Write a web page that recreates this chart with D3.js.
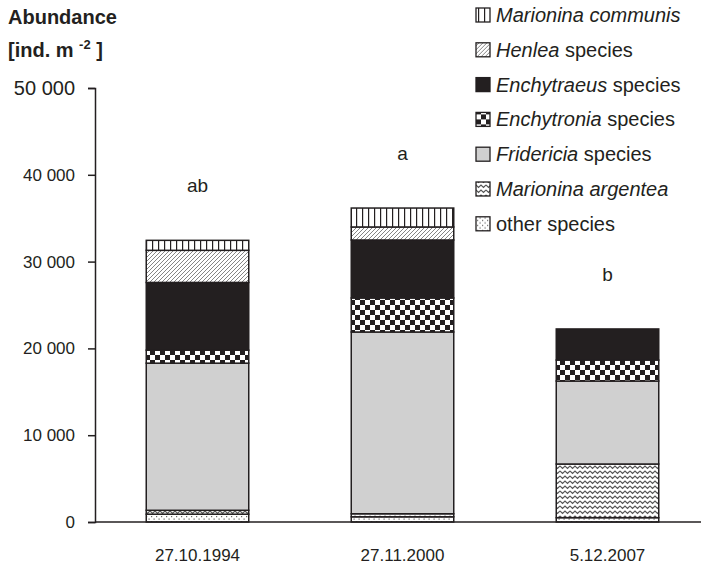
<!DOCTYPE html>
<html>
<head>
<meta charset="utf-8">
<script src="https://cdn.jsdelivr.net/npm/d3@7"></script>
<style>
  body { margin: 0; background: #fff; }
  text { font-family: "Liberation Sans", Arial, sans-serif; fill: #231f20; }
</style>
</head>
<body>
<script>
const width = 701;
const height = 570;
const margin = ({top: 88, right: -9, bottom: 48, left: 95});

// data (ind. m-2), stacked bottom -> top
const dates = ["27.10.1994", "27.11.2000", "5.12.2007"];
const species = ["other", "argentea", "fridericia", "enchytronia", "enchytraeus", "henlea", "communis"];
const other = [900, 600, 500];
const argentea = [450, 350, 6180];
const fridericia = [16950, 20940, 9560];
const enchytronia = [1500, 3920, 2420];
const enchytraeus = [7800, 6680, 3580];
const henlea = [3700, 1500, 0];
const communis = [1150, 2180, 0];
const letters = ["ab", "a", "b"];
const yTicks = [0, 10000, 20000, 30000, 40000, 50000];

const seriesValues = {other, argentea, fridericia, enchytronia, enchytraeus, henlea, communis};

// legend, top -> bottom
const legendItems = [
  {key: "communis", italic: "Marionina communis", rest: ""},
  {key: "henlea", italic: "Henlea", rest: " species"},
  {key: "enchytraeus", italic: "Enchytraeus", rest: " species"},
  {key: "enchytronia", italic: "Enchytronia", rest: " species"},
  {key: "fridericia", italic: "Fridericia", rest: " species"},
  {key: "argentea", italic: "Marionina argentea", rest: ""},
  {key: "other", italic: "", rest: "other species"}
];

const dark = "#231f20";

const tableData = dates.map((d, i) => {
  const row = {date: d};
  species.forEach(s => row[s] = seriesValues[s][i]);
  return row;
});

const svg = d3.select("body").append("svg")
  .attr("width", width)
  .attr("height", height);

// fill patterns
const defs = svg.append("defs");

let p = defs.append("pattern").attr("id", "p-communis")
  .attr("patternUnits", "userSpaceOnUse").attr("width", 6).attr("height", 6);
p.append("rect").attr("width", 6).attr("height", 6).attr("fill", "#fff");
p.append("rect").attr("x", 2).attr("width", 1.2).attr("height", 6).attr("fill", dark);

p = defs.append("pattern").attr("id", "p-henlea")
  .attr("patternUnits", "userSpaceOnUse").attr("width", 4).attr("height", 4);
p.append("rect").attr("width", 4).attr("height", 4).attr("fill", "#fff");
p.append("path").attr("d", "M-1,5 L5,-1 M-1,1 L1,-1 M3,5 L5,3")
  .attr("stroke", "#777").attr("stroke-width", 0.9);

p = defs.append("pattern").attr("id", "p-enchytronia")
  .attr("patternUnits", "userSpaceOnUse").attr("width", 10).attr("height", 10);
p.append("rect").attr("width", 10).attr("height", 10).attr("fill", "#fff");
p.append("rect").attr("x", 0).attr("y", 0).attr("width", 5).attr("height", 5).attr("fill", dark);
p.append("rect").attr("x", 5).attr("y", 5).attr("width", 5).attr("height", 5).attr("fill", dark);

p = defs.append("pattern").attr("id", "p-argentea")
  .attr("patternUnits", "userSpaceOnUse").attr("width", 10).attr("height", 5);
p.append("rect").attr("width", 10).attr("height", 5).attr("fill", "#fff");
p.append("path").attr("d", "M0,1 L2.5,3.5 L5,1 L7.5,3.5 L10,1")
  .attr("fill", "none").attr("stroke", "#555").attr("stroke-width", 1.1);

p = defs.append("pattern").attr("id", "p-other")
  .attr("patternUnits", "userSpaceOnUse").attr("width", 5).attr("height", 5);
p.append("rect").attr("width", 5).attr("height", 5).attr("fill", "#fff");
p.append("rect").attr("x", 1).attr("y", 1).attr("width", 1.2).attr("height", 1.2).attr("fill", "#666");
p.append("rect").attr("x", 3.5).attr("y", 3.5).attr("width", 1.2).attr("height", 1.2).attr("fill", "#666");

const fills = {
  communis: "url(#p-communis)",
  henlea: "url(#p-henlea)",
  enchytraeus: dark,
  enchytronia: "url(#p-enchytronia)",
  fridericia: "#d0d0d0",
  argentea: "url(#p-argentea)",
  other: "url(#p-other)"
};

const x = d3.scaleBand()
  .domain(dates)
  .range([margin.left, width - margin.right])
  .paddingInner(0.5)
  .paddingOuter(0.25);

const y = d3.scaleLinear()
  .domain([0, 50000])
  .range([height - margin.bottom, margin.top]);

const stacked = d3.stack().keys(species)(tableData);

svg.append("g")
  .selectAll("g")
  .data(stacked)
  .join("g")
  .attr("fill", d => fills[d.key])
  .selectAll("rect")
  .data(d => d.filter(v => v[1] > v[0]))
  .join("rect")
  .attr("x", d => x(d.data.date))
  .attr("y", d => y(d[1]))
  .attr("width", x.bandwidth())
  .attr("height", d => y(d[0]) - y(d[1]))
  .attr("stroke", dark)
  .attr("stroke-width", 1.5);

// y axis
const fmt = v => d3.format(",")(v).replace(/,/g, " ");
const yAxis = svg.append("g")
  .attr("transform", `translate(${margin.left},0)`)
  .call(d3.axisLeft(y).tickValues(yTicks).tickFormat(fmt).tickSize(7).tickSizeOuter(7).tickPadding(13));
yAxis.select(".domain").attr("stroke", dark).attr("stroke-width", 1.5);
yAxis.selectAll(".tick line").attr("stroke", dark).attr("stroke-width", 1.5);
yAxis.selectAll(".tick text").attr("font-size", d => d === 50000 ? 20 : 17)
  .attr("font-family", null).attr("fill", dark);

// x axis
const xAxis = svg.append("g")
  .attr("transform", `translate(0,${y(0)})`)
  .call(d3.axisBottom(x).tickSize(0).tickPadding(27));
xAxis.select(".domain").attr("stroke", dark).attr("stroke-width", 1.5)
  .attr("d", `M${margin.left},0H${width}`);
xAxis.selectAll(".tick text").attr("font-size", 17).attr("font-family", null).attr("fill", dark);

// significance letters
svg.append("g")
  .selectAll("text")
  .data(dates)
  .join("text")
  .attr("x", d => x(d) + x.bandwidth() / 2)
  .attr("y", (d, i) => y(d3.sum(species, s => seriesValues[s][i])) - 48)
  .attr("text-anchor", "middle")
  .attr("font-size", 19)
  .text((d, i) => letters[i]);

// axis title
const title = svg.append("text").attr("x", 8).attr("y", 24)
  .attr("font-size", 20).attr("font-weight", "bold");
title.append("tspan").text("Abundance");
const unit = svg.append("text").attr("x", 8).attr("y", 57)
  .attr("font-size", 20).attr("font-weight", "bold");
unit.append("tspan").text("[ind. m ");
unit.append("tspan").attr("font-size", 13).attr("dy", -8).text("-2");
unit.append("tspan").attr("dy", 8).text(" ]");

// legend
const legend = svg.append("g")
  .selectAll("g")
  .data(legendItems)
  .join("g")
  .attr("transform", (d, i) => `translate(476,${15 + i * 34.8})`);

legend.append("rect")
  .attr("y", -7)
  .attr("width", 14)
  .attr("height", 14)
  .attr("fill", d => fills[d.key])
  .attr("stroke", dark)
  .attr("stroke-width", 1.3);

const lt = legend.append("text")
  .attr("x", 20)
  .attr("y", 7)
  .attr("font-size", 20);
lt.append("tspan").attr("font-style", "italic").text(d => d.italic);
lt.append("tspan").text(d => d.rest);
</script>
</body>
</html>
